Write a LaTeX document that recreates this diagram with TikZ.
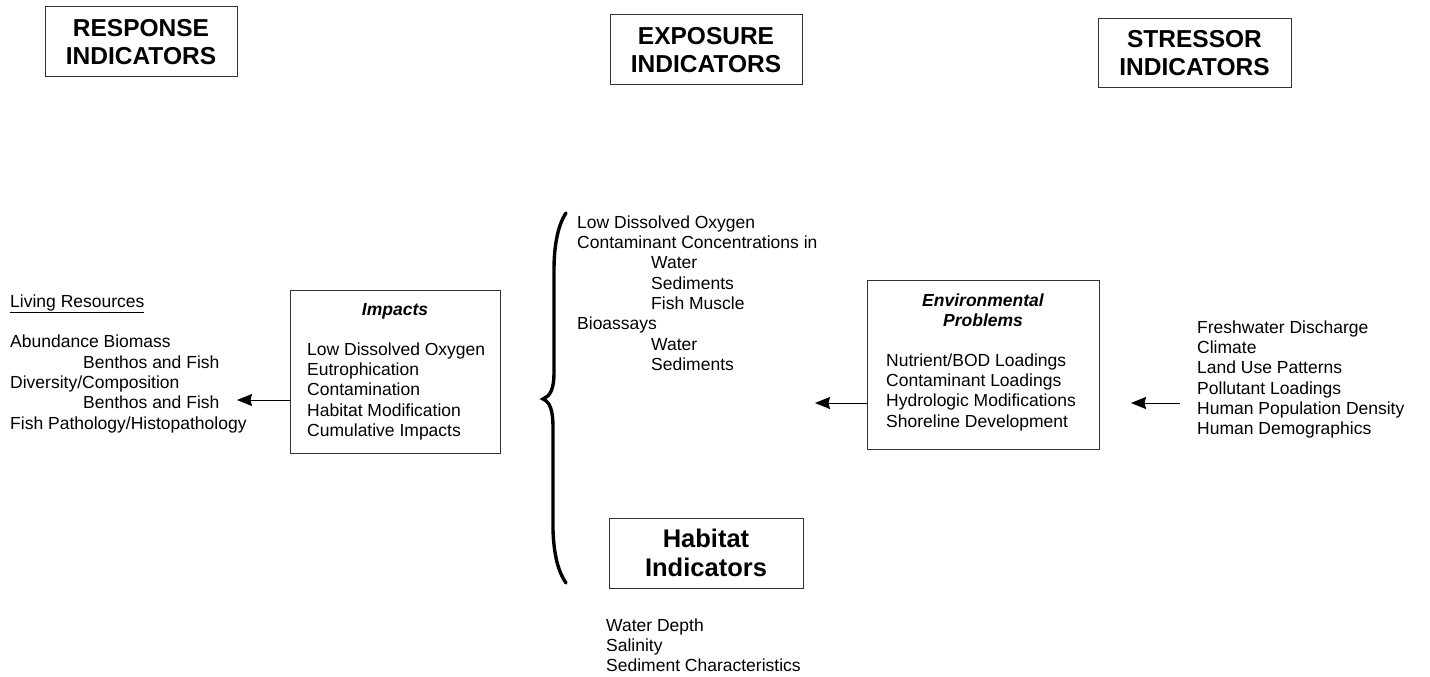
\documentclass[tikz,border=0pt]{standalone}
\usepackage{fontspec}
\setmainfont{Liberation Sans}
\usetikzlibrary{arrows.meta}
\usetikzlibrary{positioning}

\newcommand{\bodyfont}{\fontsize{17.5}{20.3}\selectfont}
\newcommand{\headfont}{\fontsize{24.5}{28}\selectfont\bfseries}

\begin{document}
\begin{tikzpicture}[x=1pt, y=-1pt]

        \useasboundingbox (0,0) rectangle (1430,677);

        % Styles for the boxes, the lists and the arrows
        \tikzset{
            hdrbox/.style={draw=black!80, line width=1pt, align=center,
                inner sep=0pt, font=\headfont},
            probbox/.style={draw=black!80, line width=1pt, inner sep=0pt},
            itemlist/.style={anchor=north west, align=left, inner sep=0pt,
                font=\bodyfont},
            boxtitle/.style={anchor=north, align=center, inner sep=0pt,
                font=\bodyfont\bfseries\itshape},
            flow/.style={line width=1pt,
                -{Stealth[length=15pt, width=12pt, inset=1.5pt]}}
        }

        % Indicator headings
        \begin{scope}
            \node[hdrbox, minimum width=192pt, minimum height=70pt]
                (resp) at (141,42) {RESPONSE\\INDICATORS};
            \node[hdrbox, minimum width=192pt, minimum height=70pt]
                (expo) at (706,50) {EXPOSURE\\INDICATORS};
            \node[hdrbox, minimum width=193pt, minimum height=69pt]
                (stress) at (1194.5,53.5) {STRESSOR\\INDICATORS};
            \node[hdrbox, font=\fontsize{25.5}{29}\selectfont\bfseries,
                minimum width=194pt, minimum height=70pt]
                (habitat) at (706,553) {Habitat\\Indicators};
        \end{scope}

        % Boxes in the middle row
        \node[probbox, minimum width=210pt, minimum height=163pt]
            (impacts) at (395,371.5) {};
        \node[boxtitle] (impactsT) at (395,300.8) {\strut Impacts};
        \node[itemlist] (impactsL) at (307,340.8)
            {\strut Low Dissolved Oxygen\\ Eutrophication\\ Contamination\\
             Habitat Modification\\ Cumulative Impacts};

        \node[probbox, minimum width=232pt, minimum height=169pt]
            (envprob) at (983,364.5) {};
        \node[boxtitle] (envprobT) at (983,291.8)
            {\strut Environmental\\Problems};
        \node[itemlist] (envprobL) at (886,351.8)
            {\strut Nutrient/BOD Loadings\\ Contaminant Loadings\\
             Hydrologic Modifications\\ Shoreline Development};

        % Lists of indicators
        \node[itemlist] (living) at (10,292.8)
            {\strut\underline{Living Resources}\\[20.3pt]
             Abundance Biomass\\
             \hspace*{73pt}Benthos and Fish\\
             Diversity/Composition\\
             \hspace*{73pt}Benthos and Fish\\
             Fish Pathology/Histopathology};
        \node[itemlist] (expoL) at (577,213.8)
            {\strut Low Dissolved Oxygen\\
             Contaminant Concentrations in\\
             \hspace*{74pt}Water\\
             \hspace*{74pt}Sediments\\
             \hspace*{74pt}Fish Muscle\\
             Bioassays\\
             \hspace*{74pt}Water\\
             \hspace*{74pt}Sediments};
        \node[itemlist] (stressL) at (1197,318.8)
            {\strut Freshwater Discharge\\ Climate\\ Land Use Patterns\\
             Pollutant Loadings\\ Human Population Density\\
             Human Demographics};
        \node[itemlist] (habitatL) at (606,616.8)
            {\strut Water Depth\\ Salinity\\ Sediment Characteristics};

        % Brace in front of the exposure list
        \draw[line width=3.4pt, line cap=round]
            (566,213) .. controls (558,225) and (554,245) .. (554,270)
            -- (554,372) .. controls (554,390) and (550,396) .. (543,399)
            .. controls (550,402) and (553,410) .. (553,428)
            -- (553,530) .. controls (554,560) and (560,574) .. (566,583);

        % Arrows
        \coordinate (respTip) at (237,400);
        \coordinate (expoTip) at (815,403);
        \coordinate (stressTail) at (1180,403);
        \coordinate (stressTip) at (1131,403);

        \draw[flow] (impacts.west |- respTip) -- (respTip);
        \draw[flow] (envprob.west |- expoTip) -- (expoTip);
        \draw[flow] (stressTail) -- (stressTip);

\end{tikzpicture}
\end{document}
